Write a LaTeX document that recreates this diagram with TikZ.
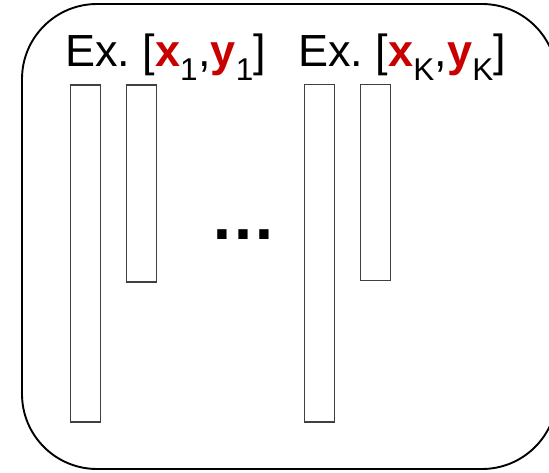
\documentclass[tikz,border=0pt]{standalone}
\usepackage{fontspec}
\setmainfont{Liberation Sans}
\usepackage{xcolor}
\definecolor{exred}{RGB}{200,0,0}

\begin{document}
\begin{tikzpicture}[x=1pt,y=1pt,
  colbox/.style={rectangle,draw=black!75,line width=1.4pt,minimum width=30pt,inner sep=0pt},
  exlabel/.style={anchor=base west,inner sep=0pt,font=\fontsize{45}{50}\selectfont}]
\useasboundingbox (0,0) rectangle (549,472);
\clip (0,0) rectangle (549,472);
% outer frame, its right side runs past the page
\node[rectangle,draw=black,line width=1.9pt,rounded corners=75pt,minimum width=535pt,minimum height=465pt,inner sep=0pt] (frame) at (289.5,235.5) {};
% example labels
\node[exlabel] (lab1) at (65,405) {Ex.\ [{\color{exred}\textbf{x}}\textsubscript{1},{\color{exred}\textbf{y}}\textsubscript{1}]};
\node[exlabel] (labK) at (298,405) {Ex.\ [{\color{exred}\textbf{x}}\textsubscript{K},{\color{exred}\textbf{y}}\textsubscript{K}]};
% columns for x and y
\node[colbox,minimum height=337pt] (ex1x) at (85.3,218.5) {};
\node[colbox,minimum height=197pt] (ex1y) at (141.3,288.5) {};
\node[colbox,minimum height=337pt] (exKx) at (319.3,218.7) {};
\node[colbox,minimum height=196pt] (exKy) at (375.3,289.3) {};
% ellipsis between the two examples
\node[anchor=base,inner sep=0pt,font=\fontsize{66}{66}\bfseries] (dots) at (243,233) {…};
\end{tikzpicture}
\end{document}
